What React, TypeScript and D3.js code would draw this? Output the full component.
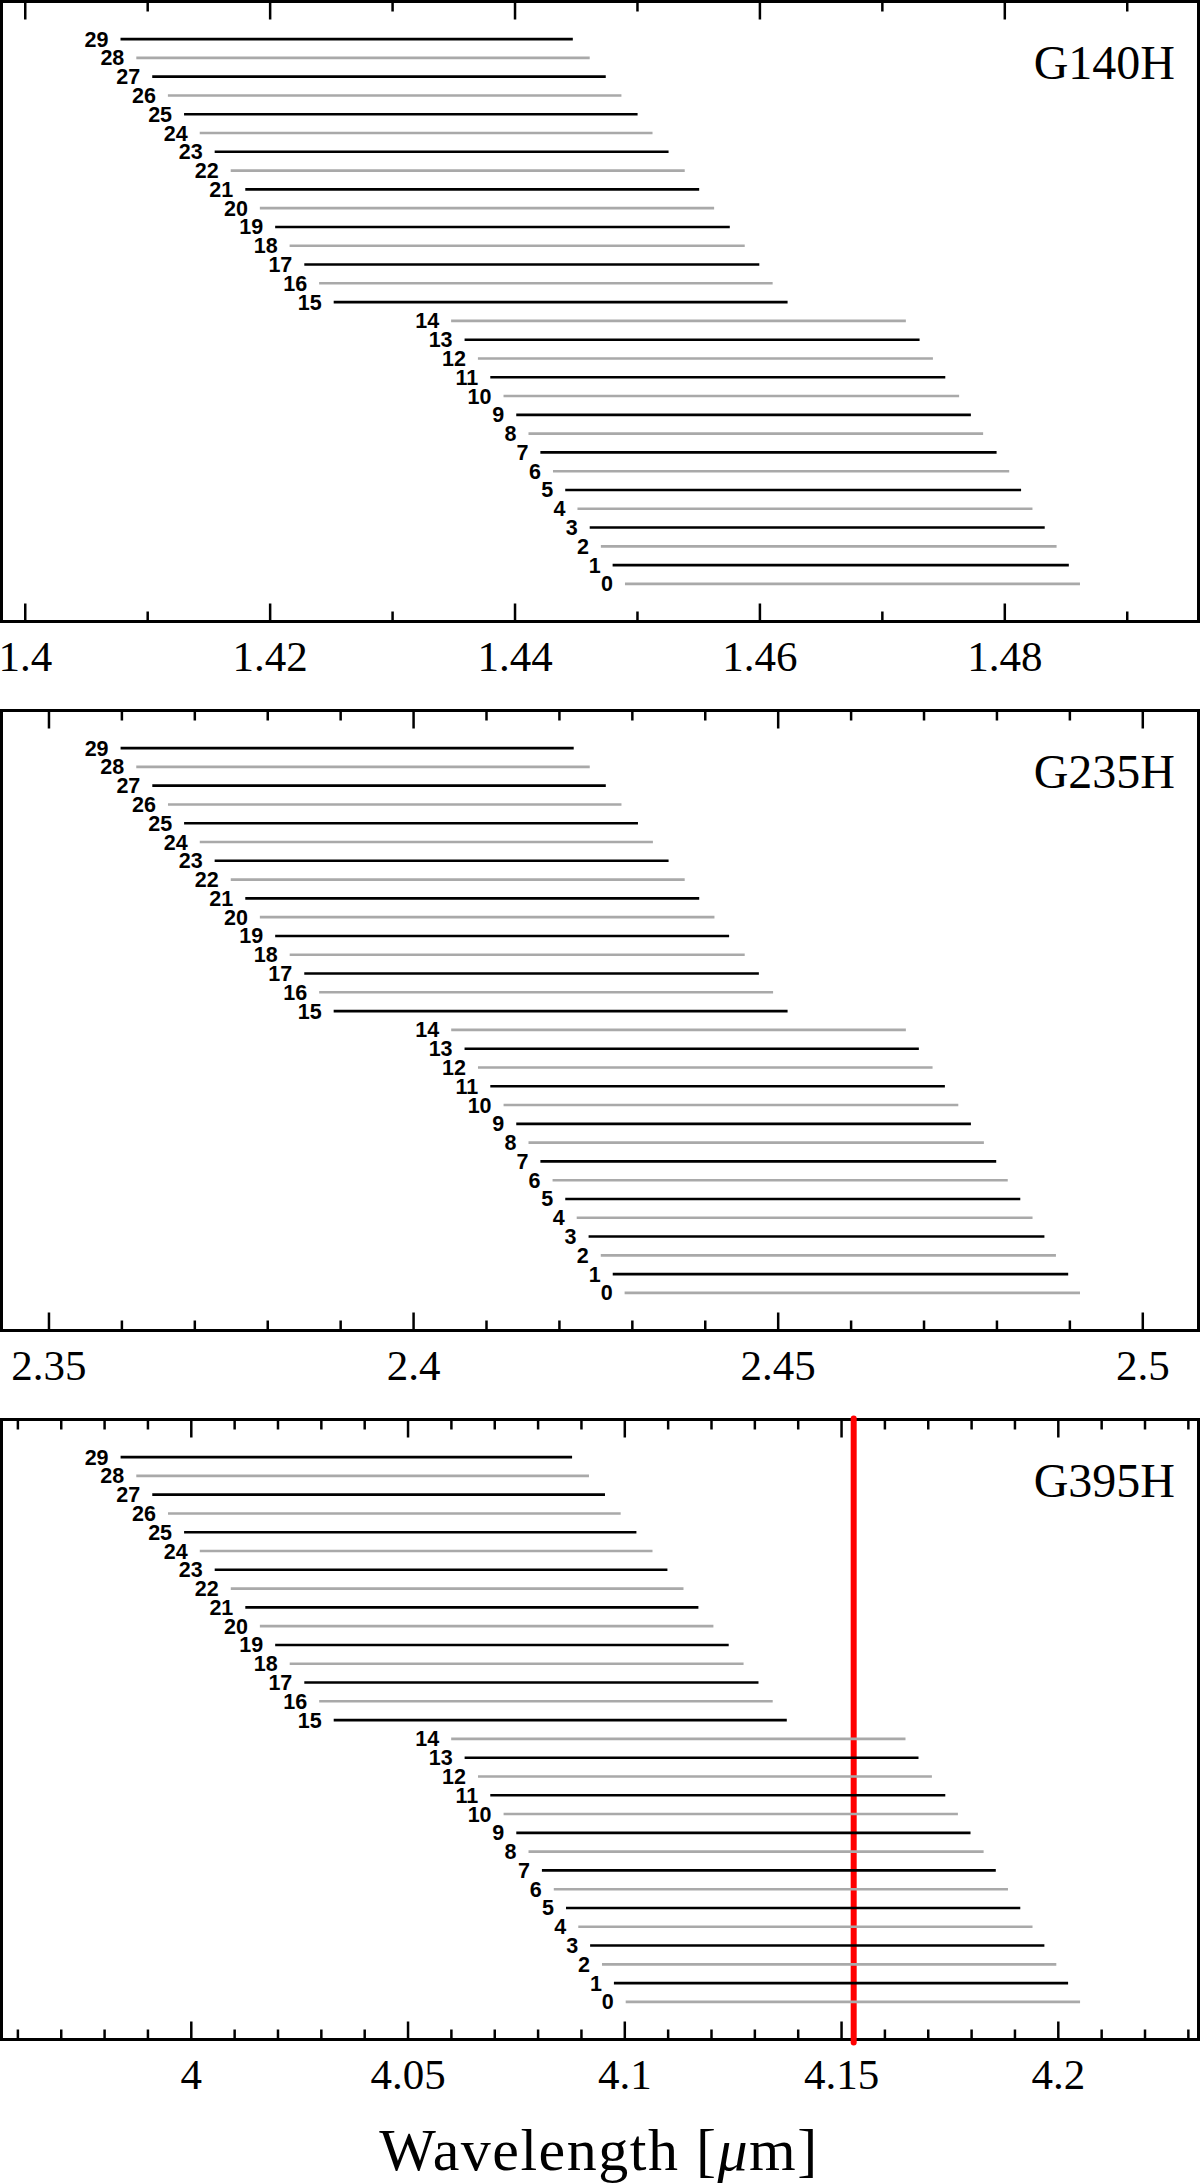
import React from 'react'
import * as d3 from 'd3'

// slit rows, 0 at the bottom, 29 at the top
const rows = d3.range(0, 30)

// G140H wavelength coverage per row (micron)
const g140Start = [1.44898, 1.44797, 1.44701, 1.4461, 1.4451, 1.4441, 1.4431, 1.44207, 1.4411, 1.4401, 1.43906, 1.43798, 1.43697, 1.43588, 1.43478, 1.42519, 1.424, 1.42279, 1.42159, 1.42041, 1.41916, 1.41797, 1.41678, 1.41547, 1.41425, 1.41297, 1.41165, 1.41037, 1.40907, 1.40778]
const g140End = [1.48614, 1.48523, 1.48423, 1.48326, 1.48226, 1.48133, 1.48036, 1.47933, 1.47823, 1.47723, 1.47627, 1.47514, 1.47413, 1.47304, 1.47192, 1.46226, 1.46104, 1.45995, 1.45876, 1.45754, 1.45626, 1.45504, 1.45386, 1.45254, 1.45123, 1.45001, 1.44869, 1.44741, 1.4461, 1.44472]

// G235H
const g235Start = [2.42894, 2.42731, 2.42567, 2.424, 2.42237, 2.4208, 2.41906, 2.41739, 2.41576, 2.41408, 2.41234, 2.41052, 2.40883, 2.40699, 2.40516, 2.38904, 2.38705, 2.38501, 2.38301, 2.38102, 2.37892, 2.37692, 2.37493, 2.37272, 2.37068, 2.36853, 2.36632, 2.36417, 2.36197, 2.35982]
const g235End = [2.49139, 2.48977, 2.48809, 2.48651, 2.48488, 2.4832, 2.48148, 2.4799, 2.47821, 2.47643, 2.4747, 2.47286, 2.47117, 2.46929, 2.46751, 2.45129, 2.4493, 2.44735, 2.44541, 2.44327, 2.44126, 2.43917, 2.43718, 2.43497, 2.43282, 2.43077, 2.42851, 2.42636, 2.42416, 2.42196]

// G395H
const g395Start = [4.10021, 4.09749, 4.09474, 4.092, 4.08927, 4.08644, 4.08362, 4.08088, 4.07779, 4.07497, 4.07204, 4.06897, 4.06614, 4.06305, 4.05995, 4.03285, 4.0295, 4.02607, 4.0227, 4.01935, 4.01582, 4.01246, 4.00911, 4.0054, 4.00196, 3.99834, 3.99463, 3.991, 3.98731, 3.98369]
const g395End = [4.20502, 4.20226, 4.19954, 4.19679, 4.19405, 4.19123, 4.18839, 4.18558, 4.18277, 4.17975, 4.17684, 4.17393, 4.17084, 4.16775, 4.16475, 4.13737, 4.13412, 4.13084, 4.1274, 4.12397, 4.12044, 4.11698, 4.11354, 4.10983, 4.10639, 4.10268, 4.09905, 4.09543, 4.09174, 4.08784]

// axis ranges and ticks
const g140Domain = [1.39806, 1.49582]
const g235Domain = [2.34349, 2.50764]
const g395Domain = [3.95622, 4.23234]
const g140Major = [1.4, 1.42, 1.44, 1.46, 1.48]
const g235Major = [2.35, 2.4, 2.45, 2.5]
const g395Major = [4.0, 4.05, 4.1, 4.15, 4.2]
const g140Labels = ['1.4', '1.42', '1.44', '1.46', '1.48']
const g235Labels = ['2.35', '2.4', '2.45', '2.5']
const g395Labels = ['4', '4.05', '4.1', '4.15', '4.2']

// marked line in the G395H panel
const markLine = 4.1528

const panels = [
  { name: 'G140H', domain: g140Domain, start: g140Start, end: g140End, major: g140Major, labels: g140Labels, minorStep: 0.01, mark: null },
  { name: 'G235H', domain: g235Domain, start: g235Start, end: g235End, major: g235Major, labels: g235Labels, minorStep: 0.01, mark: null },
  { name: 'G395H', domain: g395Domain, start: g395Start, end: g395End, major: g395Major, labels: g395Labels, minorStep: 0.01, mark: markLine }
]

const W = 1200
const H = 2184
const left = 1.5
const right = 1198.5
const panelH = 620
const panelTops = [1.5, 710.5, 1419.5]
const majorLen = 18
const minorLen = 10
const gray = '#a9a9a9'

const Panel = ({ p, top }) => {
  const x = d3.scaleLinear().domain(p.domain).range([left, right])
  const y = d3.scaleLinear().domain([-2, 31]).range([panelH, 0])

  const lo = Math.ceil(p.domain[0] / p.minorStep - 1e-6)
  const hi = Math.floor(p.domain[1] / p.minorStep + 1e-6)
  const minor = d3.range(lo, hi + 1).map(k => k * p.minorStep)
    .filter(v => !p.major.some(m => Math.abs(m - v) < 1e-6))

  return (
    <g transform={`translate(0,${top})`}>
      {/* ticks, top and bottom, pointing in */}
      {minor.map((v, i) => (
        <g key={'mn' + i} stroke="#000" strokeWidth={2.5}>
          <line x1={x(v)} x2={x(v)} y1={0} y2={minorLen} />
          <line x1={x(v)} x2={x(v)} y1={panelH} y2={panelH - minorLen} />
        </g>
      ))}
      {p.major.map((v, i) => (
        <g key={'mj' + i} stroke="#000" strokeWidth={2.5}>
          <line x1={x(v)} x2={x(v)} y1={0} y2={majorLen} />
          <line x1={x(v)} x2={x(v)} y1={panelH} y2={panelH - majorLen} />
        </g>
      ))}
      {p.major.map((v, i) => (
        <text key={'tl' + i} x={x(v)} y={panelH + 49} textAnchor="middle"
          fontFamily="'Liberation Serif', serif" fontSize={43} fill="#000">{p.labels[i]}</text>
      ))}
      <rect x={left} y={0} width={right - left} height={panelH} fill="none" stroke="#000" strokeWidth={3} />

      {p.mark !== null && (
        <line x1={x(p.mark)} x2={x(p.mark)} y1={-1} y2={panelH + 3}
          stroke="#ff0000" strokeWidth={6} strokeLinecap="round" />
      )}

      {rows.map(r => (
        <g key={'r' + r}>
          <line x1={x(p.start[r])} x2={x(p.end[r])} y1={y(r)} y2={y(r)}
            stroke={r % 2 === 1 ? '#000' : gray} strokeWidth={2.6} />
          <text x={x(p.start[r]) - 12} y={y(r) + 7.5} textAnchor="end"
            fontFamily="'Liberation Sans', Arial, sans-serif" fontWeight="bold" fontSize={21.5} fill="#000">{r}</text>
        </g>
      ))}

      <text x={1175} y={77.5} textAnchor="end" fontFamily="'Liberation Serif', serif" fontSize={48} fill="#000">{p.name}</text>
    </g>
  )
}

const App = () => {
  return (
    <div>
      <style>{'body{margin:0}'}</style>
      <svg width={W} height={H} style={{ display: 'block', background: '#fff' }}>
        <rect x={0} y={0} width={W} height={H} fill="#fff" />
        {panels.map((p, i) => <Panel key={p.name} p={p} top={panelTops[i]} />)}
        <text x={599} y={2170} textAnchor="middle" fontFamily="'Liberation Serif', serif" fontSize={60}
          letterSpacing={1.5} fill="#000">
          Wavelength [<tspan fontStyle="italic">μ</tspan>m]
        </text>
      </svg>
    </div>
  )
}

export default App
